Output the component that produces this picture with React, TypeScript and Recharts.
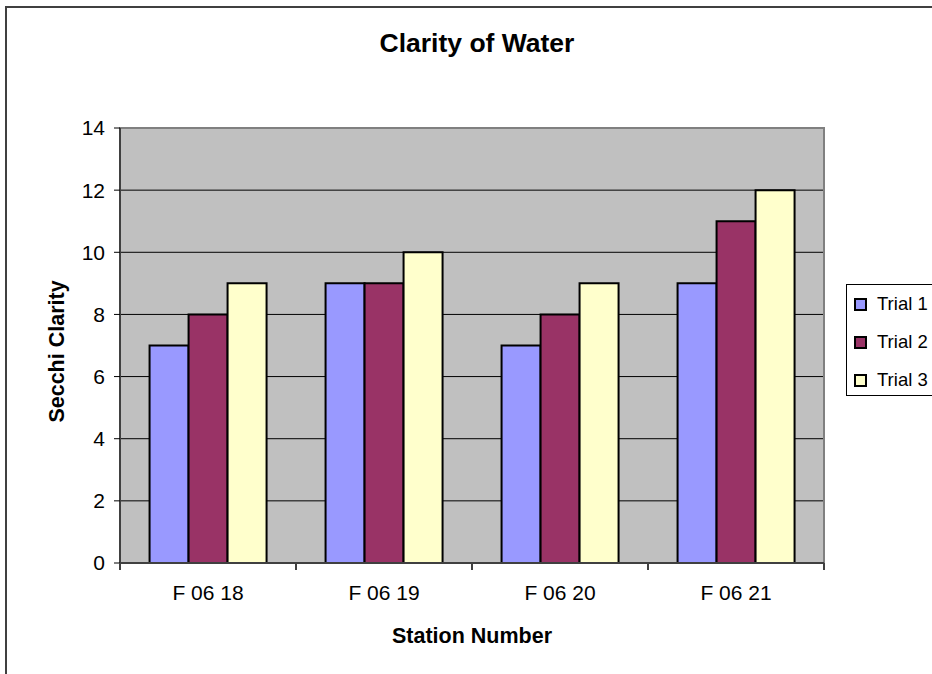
import { BarChart, Bar, XAxis, YAxis, CartesianGrid, ReferenceArea } from 'recharts';

const STATIONS = ['F 06 18', 'F 06 19', 'F 06 20', 'F 06 21'];
const TRIAL_1 = [7, 9, 7, 9];
const TRIAL_2 = [8, 9, 8, 11];
const TRIAL_3 = [9, 10, 9, 12];
const Y_TICKS = [0, 2, 4, 6, 8, 10, 12, 14];

const SERIES = [
  { key: 'trial1', name: 'Trial 1', color: '#9999FF', values: TRIAL_1 },
  { key: 'trial2', name: 'Trial 2', color: '#993366', values: TRIAL_2 },
  { key: 'trial3', name: 'Trial 3', color: '#FFFFCC', values: TRIAL_3 },
];

const data = STATIONS.map((station, i) => {
  const row: Record<string, string | number> = { station };
  SERIES.forEach((s) => {
    row[s.key] = s.values[i];
  });
  return row;
});

const FONT = '"Liberation Sans", Arial, sans-serif';
const W = 932;
const H = 674;
const MARGIN = { top: 128, right: 108, left: 0, bottom: 0 };
const Y_AXIS_W = 120;
const X_AXIS_H = 111;
const PLOT_W = W - MARGIN.right - Y_AXIS_W;
const BAND = PLOT_W / STATIONS.length;

// Excel-style ticks: marks sit on the category boundaries, labels in the middle
function StationTick(props: any) {
  const { x, y, payload, index } = props;
  const last = index === STATIONS.length - 1;
  return (
    <g>
      <line x1={x - BAND / 2} x2={x - BAND / 2} y1={y} y2={y + 7} stroke="#404040" strokeWidth={2} />
      {last && <line x1={x + BAND / 2} x2={x + BAND / 2} y1={y} y2={y + 7} stroke="#404040" strokeWidth={2} />}
      <text x={x} y={y + 29} textAnchor="middle" dominantBaseline="central" fontSize={21} fill="#000" fontFamily={FONT}>
        {payload.value}
      </text>
    </g>
  );
}

// legend kept outside the chart so it doesn't eat into the plot width
function LegendBox() {
  return (
    <div
      style={{
        position: 'absolute',
        left: 846,
        top: 284,
        width: 120,
        height: 112,
        border: '1px solid #000',
        background: '#fff',
        boxSizing: 'border-box',
        fontFamily: FONT,
        fontSize: 18.5,
        color: '#000',
        paddingTop: 0,
      }}
    >
      {SERIES.map((s) => (
        <div key={s.key} style={{ display: 'flex', alignItems: 'center', height: 38, paddingLeft: 7 }}>
          <span
            style={{
              display: 'inline-block',
              width: 13,
              height: 13,
              background: s.color,
              border: '2px solid #000',
              boxSizing: 'border-box',
              marginRight: 10,
            }}
          />
          {s.name}
        </div>
      ))}
    </div>
  );
}

export default function App() {
  return (
    <div style={{ position: 'absolute', left: 0, top: 0, width: W, height: H, overflow: 'hidden', background: '#fff' }}>
      <div
        style={{
          position: 'absolute',
          left: 5,
          top: 6,
          width: 1000,
          height: 1000,
          border: '2px solid #404040',
        }}
      />
      <div
        style={{
          position: 'absolute',
          left: 5,
          top: 28,
          width: 944,
          textAlign: 'center',
          fontFamily: FONT,
          fontWeight: 'bold',
          fontSize: 26.5,
          lineHeight: '30px',
        }}
      >
        Clarity of Water
      </div>
      <BarChart
        width={W}
        height={H}
        data={data}
        margin={MARGIN}
        barCategoryGap="16.8%"
        barGap={0}
        style={{ position: 'absolute', left: 0, top: 0 }}
      >
        <CartesianGrid fill="#C0C0C0" fillOpacity={1} stroke="#000" vertical={false} />
        <ReferenceArea y1={0} y2={14} fill="none" stroke="#808080" strokeWidth={2} ifOverflow="visible" />
        <XAxis
          dataKey="station"
          height={X_AXIS_H}
          axisLine={{ stroke: '#404040', strokeWidth: 2 }}
          tickLine={false}
          tickSize={0}
          tickMargin={0}
          tick={<StationTick />}
          interval={0}
          label={(p: any) => {
            const vb = p.viewBox;
            return (
              <text
                x={vb.x + vb.width / 2}
                y={vb.y + 73}
                textAnchor="middle"
                dominantBaseline="central"
                fontSize={21.5}
                fontWeight="bold"
                fill="#000"
                fontFamily={FONT}
              >
                Station Number
              </text>
            );
          }}
        />
        <YAxis
          width={Y_AXIS_W}
          domain={[0, 14]}
          ticks={Y_TICKS}
          interval={0}
          axisLine={{ stroke: '#404040', strokeWidth: 2 }}
          tickLine={{ stroke: '#000' }}
          tickSize={6}
          tickMargin={9}
          tick={{ fontSize: 21, fill: '#000', fontFamily: FONT }}
          label={(p: any) => {
            const vb = p.viewBox;
            const cx = 57;
            const cy = vb.y + vb.height / 2 + 6;
            return (
              <text
                x={cx}
                y={cy}
                transform={`rotate(-90, ${cx}, ${cy})`}
                textAnchor="middle"
                dominantBaseline="central"
                fontSize={21.5}
                fontWeight="bold"
                fill="#000"
                fontFamily={FONT}
              >
                Secchi Clarity
              </text>
            );
          }}
        />
        {SERIES.map((s) => (
          <Bar
            key={s.key}
            dataKey={s.key}
            name={s.name}
            fill={s.color}
            stroke="#000"
            strokeWidth={2}
            isAnimationActive={false}
          />
        ))}
      </BarChart>
      <LegendBox />
    </div>
  );
}
